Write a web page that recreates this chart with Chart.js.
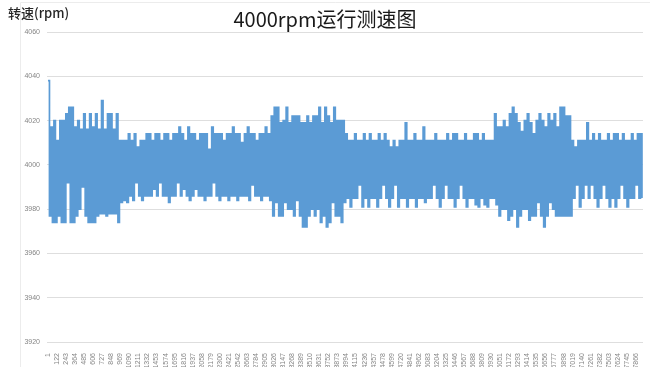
<!DOCTYPE html>
<html>
<head>
<meta charset="utf-8">
<script src="https://cdn.jsdelivr.net/npm/chart.js@4/dist/chart.umd.min.js"></script>
<style>
  html, body { margin: 0; padding: 0; background: #fff; }
  #wrap { position: relative; width: 650px; height: 367px; }
</style>
</head>
<body>
<div id="wrap"><canvas id="c"></canvas></div>
<script>
// ---- data (peaks / troughs of the rapid oscillation) ----
const chartTitle = "4000rpm运行测速图";
const yAxisTitle = "转速(rpm)";
const lastSample = 7946;

const yTicks = [3920, 3940, 3960, 3980, 4000, 4020, 4040, 4060];

const xTickLabels = [1,122,243,364,485,606,727,848,969,1090,1211,1332,1453,1574,1695,1816,1937,2058,2179,2300,2421,2542,2663,2784,2905,3026,3147,3268,3389,3510,3631,3752,3873,3994,4115,4236,4357,4478,4599,4720,4841,4962,5083,5204,5325,5446,5567,5688,5809,5930,6051,6172,6293,6414,6535,6656,6777,6898,7019,7140,7261,7382,7503,7624,7745,7866];

// upper swings
const highs = [
  4038,4017,4020,4011,4020,4020,4023,4026,4026,4017,4020,4016,4023,4016,4023,4017,4023,4016,4029,4016,4023,4023,4016,4023,4011,
  4011,4011,4014,4011,4014,4008,4011,4011,
  4014,4014,4011,4014,4014,4011,4014,4014,4011,4014,4014,4017,
  4014,4011,4017,4014,4014,4011,4014,4014,4014,4007,4017,4014,
  4014,4014,4011,4014,4014,4017,4014,4014,4010,4014,4017,4014,4014,4011,4014,4014,4017,4014,
  4022,4026,4026,4019,4020,4026,4019,4022,4022,4022,4019,4019,4022,4019,4022,4022,4026,4019,4026,4022,4019,4026,4020,4020,4020,
  4014,4011,4011,4014,4011,4011,4014,4011,4014,4011,
  4011,4014,4011,4014,4011,4008,4011,4008,4011,4011,
  4019,4011,4011,4014,4011,4011,4017,4011,4011,4011,
  4014,4011,4011,4011,4014,4011,4014,4014,4011,4011,
  4014,4011,4011,4014,4014,4011,4014,4011,4011,
  4011,4023,4017,4017,4020,4017,4023,4026,4023,4019,4015,4020,4023,4019,4014,4020,4023,4020,4017,4023,4020,4023,4017,4026,4026,4022,4022,
  4011,4008,4011,4011,4011,4019,4011,4014,4011,4014,4011,4011,
  4014,4011,4014,4014,4011,4014,4011,4011,4014,4011,4014,4014
];

// lower swings
const lows = [
  3977,3974,3974,3977,3974,3974,3992,3974,3974,3977,3980,3990,3977,3974,3974,3974,3977,3978,3978,3977,3978,3978,3978,3974,3983,
  3984,3983,3986,3984,3992,3986,3984,3986,
  3986,3986,3989,3986,3992,3986,3986,3983,3986,3986,3992,3986,
  3989,3986,3984,3986,3989,3986,3986,3984,3986,3986,3992,3986,
  3984,3986,3986,3984,3986,3986,3984,3986,3986,3986,3984,3991,3986,3986,3984,3986,3986,3984,
  3977,3983,3977,3977,3983,3980,3980,3977,3984,3977,3972,3972,3977,3980,3977,3980,3974,3977,3972,3974,3983,3977,3977,3974,3983,
  3985,3981,3985,3985,3991,3981,3985,3981,3985,3985,
  3981,3985,3991,3985,3981,3985,3991,3981,3985,3985,
  3981,3985,3985,3981,3985,3985,3983,3985,3985,3991,
  3985,3981,3985,3991,3985,3985,3981,3985,3991,3985,
  3981,3985,3985,3982,3981,3985,3982,3981,3985,
  3985,3982,3977,3980,3980,3975,3977,3980,3972,3977,3980,3980,3975,3977,3977,3983,3977,3972,3977,3983,3980,3977,3977,3977,3977,3977,3977,
  3985,3991,3981,3985,3991,3985,3991,3985,3981,3985,3991,3985,
  3981,3985,3981,3985,3991,3985,3981,3985,3985,3991,3985,3985
];

// ---- build the series: swings alternate high / low along the sample axis ----
const swings = [];
highs.forEach((h, j) => { swings.push(h); swings.push(lows[j]); });
const stepSamples = (lastSample - 1) / (swings.length - 1);
const points = swings.map((v, k) => ({ x: 1 + k * stepSamples, y: v }));

const textPlugin = {
  id: 'texts',
  beforeDraw(chart) {
    const ctx = chart.ctx;
    ctx.save();
    ctx.strokeStyle = '#ececec';
    ctx.lineWidth = 1;
    ctx.beginPath();
    ctx.moveTo(20.5, 367);
    ctx.lineTo(20.5, 2.5);
    ctx.lineTo(650, 2.5);
    ctx.stroke();
    ctx.restore();
  },
  afterDraw(chart) {
    const ctx = chart.ctx;
    ctx.save();
    ctx.fillStyle = '#1a1a1a';
    ctx.textBaseline = 'middle';
    ctx.textAlign = 'center';
    ctx.font = '20px "Noto Sans CJK SC", "Noto Sans", sans-serif';
    ctx.fillText(chartTitle, 325, 19);
    ctx.textAlign = 'left';
    ctx.fillStyle = '#262626';
    ctx.font = '500 13px "Noto Sans CJK SC", "Noto Sans", sans-serif';
    ctx.fillText(yAxisTitle, 8, 13);
    ctx.restore();
  }
};

new Chart(document.getElementById('c'), {
  type: 'line',
  data: {
    datasets: [{
      data: points,
      borderColor: '#5B9BD5',
      borderWidth: 1.7,
      borderJoinStyle: 'miter',
      stepped: true,
      pointRadius: 0,
      fill: false
    }]
  },
  options: {
    responsive: true,
    maintainAspectRatio: false,
    animation: false,
    events: [],
    layout: { padding: { top: 32, right: 7, left: 0, bottom: 0 } },
    plugins: { legend: { display: false }, tooltip: { enabled: false }, title: { display: false } },
    scales: {
      x: {
        type: 'linear',
        min: -12,
        max: 7960,
        afterFit(s) { s.height = 25; },
        afterBuildTicks(s) { s.ticks = xTickLabels.map(v => ({ value: v })); },
        grid: { display: false },
        border: { display: false },
        ticks: {
          autoSkip: false,
          minRotation: 90,
          maxRotation: 90,
          padding: 3,
          color: '#858585',
          font: { size: 7, family: 'Liberation Sans, sans-serif' },
          callback: v => String(v)
        }
      },
      y: {
        min: 3920,
        max: 4060,
        afterFit(s) { s.width = 47; },
        afterBuildTicks(s) { s.ticks = yTicks.map(v => ({ value: v })); },
        grid: { color: '#dedede', lineWidth: 1, drawTicks: false },
        border: { display: false },
        ticks: {
          padding: 7,
          color: '#858585',
          font: { size: 7, family: 'Liberation Sans, sans-serif' },
          callback: v => String(v)
        }
      }
    }
  },
  plugins: [textPlugin]
});
</script>
</body>
</html>
